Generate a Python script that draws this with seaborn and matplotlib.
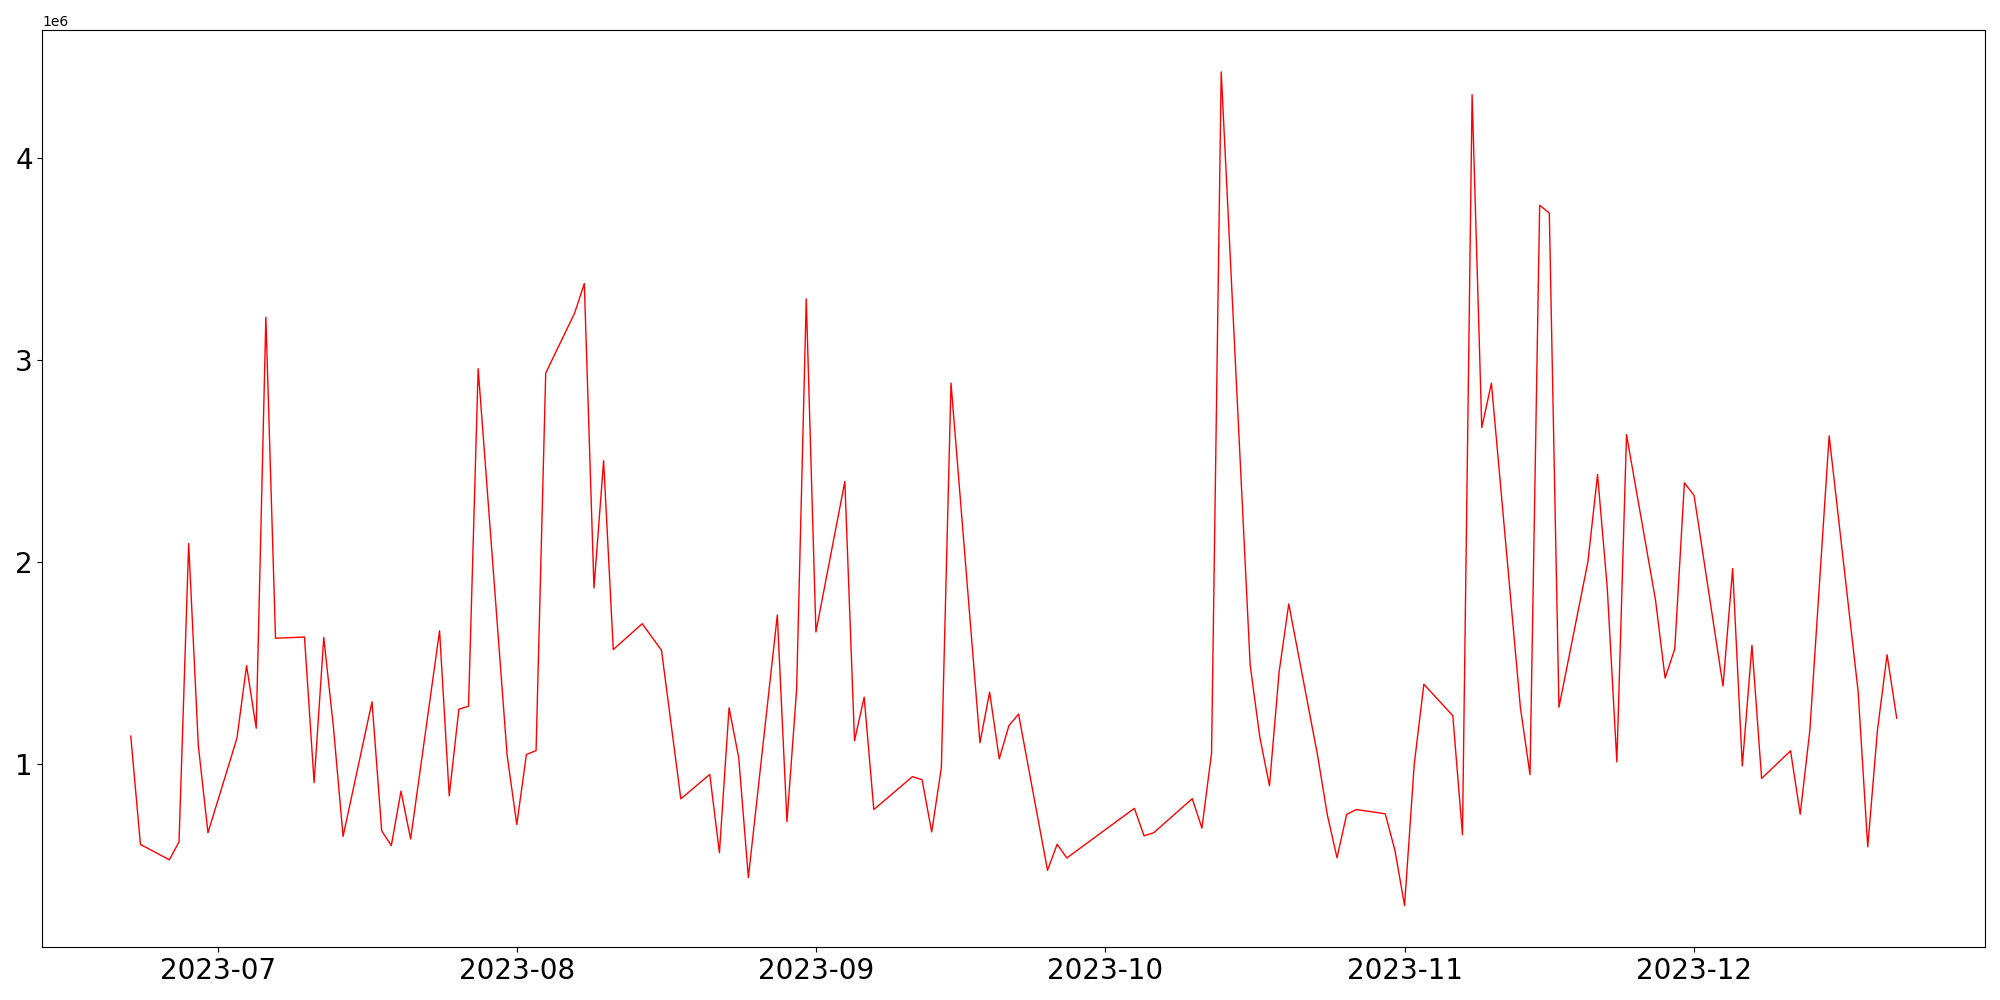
import matplotlib
matplotlib.use("Agg")
import matplotlib.pyplot as plt
import seaborn as sns
import pandas as pd

dates = [
    "2023-06-22", "2023-06-23", "2023-06-26", "2023-06-27", "2023-06-28", "2023-06-29", "2023-06-30",
    "2023-07-03", "2023-07-04", "2023-07-05", "2023-07-06", "2023-07-07",
    "2023-07-10", "2023-07-11", "2023-07-12", "2023-07-13", "2023-07-14",
    "2023-07-17", "2023-07-18", "2023-07-19", "2023-07-20", "2023-07-21",
    "2023-07-24", "2023-07-25", "2023-07-26", "2023-07-27", "2023-07-28",
    "2023-07-31", "2023-08-01", "2023-08-02", "2023-08-03", "2023-08-04",
    "2023-08-07", "2023-08-08", "2023-08-09", "2023-08-10", "2023-08-11",
    "2023-08-14", "2023-08-16", "2023-08-18",
    "2023-08-21", "2023-08-22", "2023-08-23", "2023-08-24", "2023-08-25",
    "2023-08-28", "2023-08-29", "2023-08-30", "2023-08-31", "2023-09-01",
    "2023-09-04", "2023-09-05", "2023-09-06", "2023-09-07",
    "2023-09-11", "2023-09-12", "2023-09-13", "2023-09-14", "2023-09-15",
    "2023-09-18", "2023-09-19", "2023-09-20", "2023-09-21", "2023-09-22",
    "2023-09-25", "2023-09-26", "2023-09-27",
    "2023-10-04", "2023-10-05", "2023-10-06",
    "2023-10-10", "2023-10-11", "2023-10-12", "2023-10-13",
    "2023-10-16", "2023-10-17", "2023-10-18", "2023-10-19", "2023-10-20",
    "2023-10-23", "2023-10-24", "2023-10-25", "2023-10-26", "2023-10-27",
    "2023-10-30", "2023-10-31", "2023-11-01", "2023-11-02", "2023-11-03",
    "2023-11-06", "2023-11-07", "2023-11-08", "2023-11-09", "2023-11-10",
    "2023-11-13", "2023-11-14", "2023-11-15", "2023-11-16", "2023-11-17",
    "2023-11-20", "2023-11-21", "2023-11-22", "2023-11-23", "2023-11-24",
    "2023-11-27", "2023-11-28", "2023-11-29", "2023-11-30", "2023-12-01",
    "2023-12-04", "2023-12-05", "2023-12-06", "2023-12-07", "2023-12-08",
    "2023-12-11", "2023-12-12", "2023-12-13", "2023-12-15",
    "2023-12-18", "2023-12-19", "2023-12-20", "2023-12-21", "2023-12-22",
]

values = [
    1.136e6, 0.599e6, 0.523e6, 0.612e6, 2.090e6, 1.089e6, 0.657e6,
    1.125e6, 1.485e6, 1.175e6, 3.212e6, 1.621e6,
    1.627e6, 0.906e6, 1.625e6, 1.181e6, 0.639e6,
    1.306e6, 0.667e6, 0.593e6, 0.863e6, 0.626e6,
    1.658e6, 0.840e6, 1.269e6, 1.284e6, 2.957e6,
    1.041e6, 0.698e6, 1.045e6, 1.064e6, 2.935e6,
    3.233e6, 3.379e6, 1.870e6, 2.501e6, 1.565e6,
    1.693e6, 1.561e6, 0.825e6,
    0.946e6, 0.558e6, 1.276e6, 1.029e6, 0.435e6,
    1.736e6, 0.712e6, 1.366e6, 3.303e6, 1.652e6,
    2.398e6, 1.113e6, 1.329e6, 0.772e6,
    0.935e6, 0.920e6, 0.661e6, 0.980e6, 2.885e6,
    1.103e6, 1.354e6, 1.023e6, 1.188e6, 1.245e6,
    0.471e6, 0.600e6, 0.532e6,
    0.778e6, 0.642e6, 0.657e6,
    0.826e6, 0.680e6, 1.052e6, 4.428e6,
    1.488e6, 1.131e6, 0.890e6, 1.454e6, 1.791e6,
    1.037e6, 0.745e6, 0.533e6, 0.748e6, 0.772e6,
    0.751e6, 0.570e6, 0.296e6, 0.995e6, 1.393e6,
    1.237e6, 0.647e6, 4.315e6, 2.665e6, 2.885e6,
    1.279e6, 0.945e6, 3.767e6, 3.728e6, 1.279e6,
    2.000e6, 2.432e6, 1.874e6, 1.008e6, 2.630e6,
    1.812e6, 1.424e6, 1.568e6, 2.391e6, 2.329e6,
    1.384e6, 1.966e6, 0.988e6, 1.586e6, 0.926e6,
    1.063e6, 0.749e6, 1.165e6, 2.624e6,
    1.358e6, 0.587e6, 1.163e6, 1.539e6, 1.225e6,
]

df = pd.DataFrame({"date": pd.to_datetime(dates), "value": values})

fig, ax = plt.subplots(figsize=(20, 10), dpi=100)
sns.lineplot(data=df, x="date", y="value", color="red", linewidth=1.0, ax=ax)
ax.set_xlabel("")
ax.set_ylabel("")
ax.tick_params(axis="both", labelsize=20)
fig.tight_layout()
fig.savefig("out.png", dpi=100)
